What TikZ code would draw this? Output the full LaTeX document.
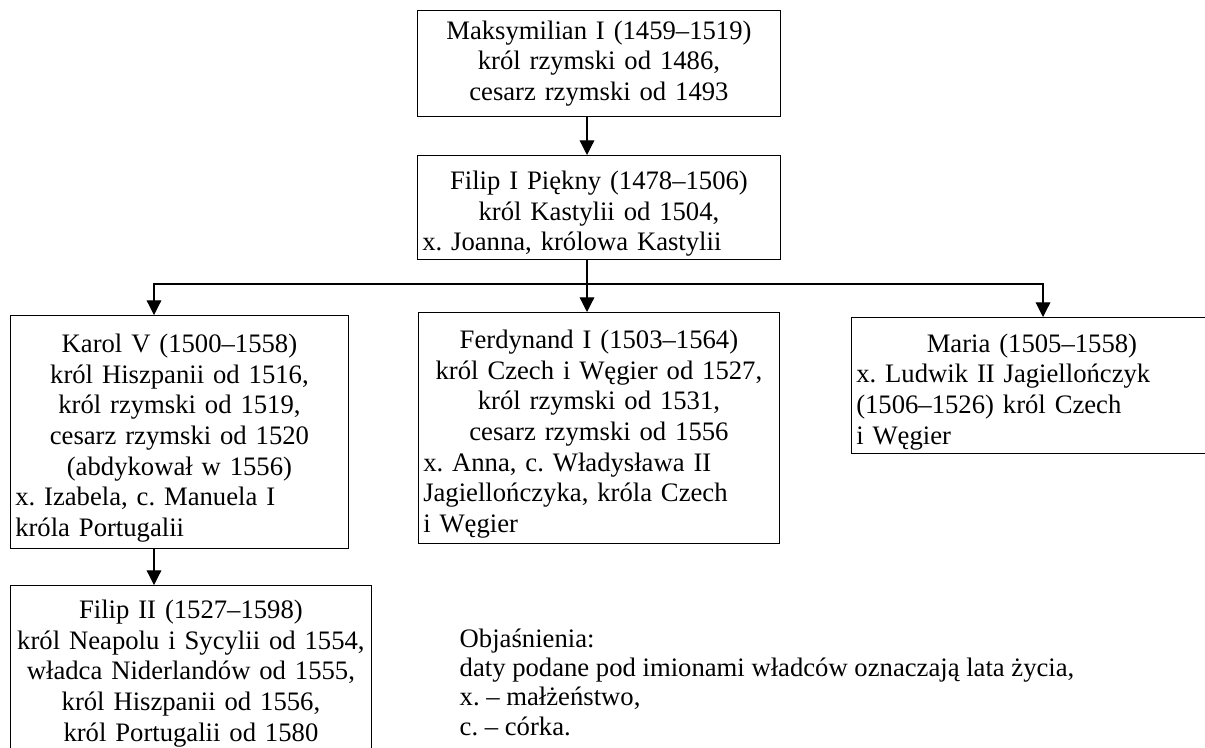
\documentclass[tikz,border=0pt]{standalone}
\usepackage{fontspec}
\setmainfont{Liberation Serif}
\usepackage{tikz}
\usetikzlibrary{arrows.meta}
\setlength{\parindent}{0pt}
\frenchspacing
% centred and left-aligned parts of a box
\newcommand{\kcenter}{\par\leftskip=0pt plus 1fil\rightskip=0pt plus 1fil\parfillskip=0pt\relax}
\newcommand{\kleft}{\par\leftskip=0pt\rightskip=0pt plus 1fil\parfillskip=0pt plus 1fil\relax}
\tikzset{
  % ---- boxes ----------------------------------------------------------
  kbox/.style={
    draw=black, line width=0.9pt, rectangle, anchor=north west,
    inner xsep=3.5pt, inner ysep=0pt, align=center,
    font=\fontsize{20pt}{23pt}\selectfont},
  kmixed/.style={kbox, align=left},
  klegend/.style={align=left, font=\fontsize{20pt}{21.8pt}\selectfont},
  % ---- connections ----------------------------------------------------
  kline/.style={draw=black, line width=0.9pt, line cap=rect},
  karrow/.style={kline, line cap=butt, -{Triangle[length=11pt,width=11pt]}},
}
\begin{document}
\begin{tikzpicture}[x=0.75pt, y=-0.75pt]

\path[use as bounding box, clip] (0,0) rectangle (1205,747);

% ---- generations ------------------------------------------------------
\node[kbox, text width=265pt, minimum height=79.5pt] (maks) at (417,10)
  {Maksymilian I (1459–1519)\\król rzymski od 1486,\\cesarz rzymski od 1493};
\node[kmixed, text width=265pt, minimum height=78pt] (filip) at (417,155)
  {\kcenter Filip I Piękny (1478–1506)\par król Kastylii od 1504,
   \kleft x. Joanna, królowa Kastylii};

\node[kmixed, text width=246.25pt, minimum height=174.75pt] (karol) at (10,315)
  {\kcenter Karol V (1500–1558)\par król Hiszpanii od 1516,\par król rzymski od 1519,\par
   cesarz rzymski od 1520\par (abdykował w 1556)
   \kleft x. Izabela, c. Manuela I\par króla Portugalii};
\node[kmixed, text width=263.5pt, minimum height=173.25pt] (ferdynand) at (418,312)
  {\kcenter Ferdynand I (1503–1564)\par król Czech i Węgier od 1527,\par król rzymski od 1531,\par
   cesarz rzymski od 1556
   \kleft x. Anna, c. Władysława II\par Jagiellończyka, króla Czech\par i Węgier};
\node[kmixed, text width=263.5pt, minimum height=102pt] (maria) at (851,317)
  {\kcenter Maria (1505–1558)
   \kleft x. Ludwik II Jagiellończyk\par (1506–1526) król Czech\par i Węgier};

\node[kbox, text width=263.5pt, minimum height=132pt] (filip2) at (10,585)
  {Filip II (1527–1598)\\król Neapolu i Sycylii od 1554,\\władca Niderlandów od 1555,\\
   król Hiszpanii od 1556,\\król Portugalii od 1580};

% ---- legend -----------------------------------------------------------
\node[klegend, anchor=base west] (objasnienia) at (455,735)
  {Objaśnienia:\\daty podane pod imionami władców oznaczają lata życia,\\
   x. – małżeństwo,\\c. – córka.};

% ---- connectors -------------------------------------------------------
\coordinate (split) at (587,284);
\coordinate (lkarol) at (154,284);
\coordinate (lmaria) at (1043,284);

\draw[karrow] (maks.south -| split) -- (filip.north -| split);
\draw[kline] (filip.south -| split) -- (split);
\draw[kline] (lkarol) -- (lmaria);
\draw[karrow] (lkarol) -- (karol.north -| lkarol);
\draw[karrow] (split) -- (ferdynand.north -| split);
\draw[karrow] (lmaria) -- (maria.north -| lmaria);
\draw[karrow] (karol.south -| lkarol) -- (filip2.north -| lkarol);

\end{tikzpicture}
\end{document}
